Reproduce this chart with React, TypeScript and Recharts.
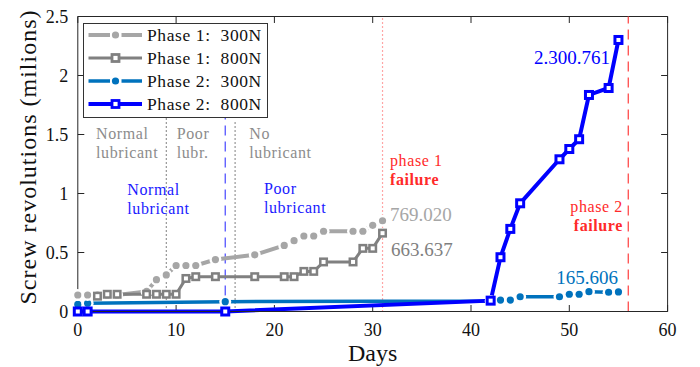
import React from 'react';
import { LineChart, Line, XAxis, YAxis, ReferenceLine, ReferenceDot, Legend } from 'recharts';

// days and revolutions (millions)
const p1Days300 = [0, 1, 2, 3, 4, 7, 8, 9, 10, 11, 12, 14, 18, 21, 22, 23, 24, 25, 28, 29, 30, 31];
const p1Revs300 = [0.14, 0.14, 0.14, 0.14, 0.14, 0.17, 0.27, 0.31, 0.39, 0.39, 0.39, 0.44, 0.48, 0.56, 0.6, 0.64, 0.64, 0.68, 0.68, 0.68, 0.73, 0.769];

const p1Days800 = [2, 3, 4, 7, 8, 9, 10, 11, 12, 14, 18, 21, 22, 23, 24, 25, 28, 29, 30, 31];
const p1Revs800 = [0.13, 0.146, 0.146, 0.146, 0.146, 0.146, 0.146, 0.28, 0.295, 0.295, 0.295, 0.295, 0.295, 0.34, 0.34, 0.42, 0.42, 0.535, 0.535, 0.664];

const p2Days = [0, 1, 15, 42, 43, 44, 45, 49, 50, 51, 52, 54, 55];
const p2Revs300 = [0.06, 0.07, 0.083, 0.09, 0.097, 0.097, 0.125, 0.125, 0.146, 0.146, 0.168, 0.163, 0.166];
const p2Revs800 = [0, 0, 0, 0.092, 0.46, 0.7, 0.917, 1.29, 1.377, 1.46, 1.835, 1.894, 2.301];

const xTicks = [0, 10, 20, 30, 40, 50, 60];
const yTicks = [0, 0.5, 1, 1.5, 2, 2.5];

const toRows = (days: number[], revs: number[]) => days.map((d, i) => ({ d, v: revs[i] }));

const FONT = '"Liberation Serif", "Times New Roman", serif';
const AXIS = '#262626';

const series = [
  { key: 'p1-300', name: 'Phase 1:  300N', color: '#A6A6A6', width: 4, marker: 'dot', data: toRows(p1Days300, p1Revs300) },
  { key: 'p1-800', name: 'Phase 1:  800N', color: '#808080', width: 3, marker: 'square', data: toRows(p1Days800, p1Revs800) },
  { key: 'p2-300', name: 'Phase 2:  300N', color: '#0072BD', width: 3.5, marker: 'dot', data: toRows(p2Days, p2Revs300) },
  { key: 'p2-800', name: 'Phase 2:  800N', color: '#0000FF', width: 4, marker: 'square', data: toRows(p2Days, p2Revs800) },
];
// drawing order (blue dotted first so the grey halos sit above it)
const drawOrder = ['p2-300', 'p1-300', 'p1-800', 'p2-800'];

// text annotations, placed in data units
const notes = [
  { x: 1.85, y: 1.459, text: 'Normal', color: '#8c8c8c' },
  { x: 1.85, y: 1.298, text: 'lubricant', color: '#8c8c8c' },
  { x: 10.06, y: 1.459, text: 'Poor', color: '#8c8c8c' },
  { x: 10.06, y: 1.298, text: 'lubr.', color: '#8c8c8c' },
  { x: 17.45, y: 1.459, text: 'No', color: '#8c8c8c' },
  { x: 17.45, y: 1.298, text: 'lubricant', color: '#8c8c8c' },
  { x: 5.04, y: 0.987, text: 'Normal', color: '#1a1aff' },
  { x: 5.04, y: 0.826, text: 'lubricant', color: '#1a1aff' },
  { x: 18.94, y: 1.0, text: 'Poor', color: '#1a1aff' },
  { x: 18.94, y: 0.832, text: 'lubricant', color: '#1a1aff' },
  { x: 31.76, y: 1.236, text: 'phase 1', color: '#ff2a2a' },
  { x: 31.76, y: 1.072, text: 'failure', color: '#ff2a2a', bold: true },
  { x: 55.46, y: 0.846, text: 'phase 2', color: '#ff2a2a', anchor: 'end' },
  { x: 55.46, y: 0.685, text: 'failure', color: '#ff2a2a', bold: true, anchor: 'end' },
  { x: 31.76, y: 0.767, text: '769.020', color: '#A6A6A6', num: true },
  { x: 31.86, y: 0.47, text: '663.637', color: '#808080', num: true },
  { x: 54.14, y: 2.095, text: '2.300.761', color: '#0000FF', num: true, anchor: 'end' },
  { x: 54.95, y: 0.233, text: '165.606', color: '#0072BD', num: true, anchor: 'end' },
];

const haloDot = (color: string) => (p: any) => {
  if (p.cx == null || p.cy == null) return <g key={p.index} />;
  return (
    <g key={p.index}>
      <circle cx={p.cx} cy={p.cy} r={6} fill="#fff" />
      <circle cx={p.cx} cy={p.cy} r={3.6} fill={color} />
    </g>
  );
};

const squareDot = (color: string, size: number, sw: number) => (p: any) => {
  if (p.cx == null || p.cy == null) return <g key={p.index} />;
  return (
    <rect key={p.index} x={p.cx - size / 2} y={p.cy - size / 2} width={size} height={size}
      fill="#fff" stroke={color} strokeWidth={sw} />
  );
};

const renderLegend = () => (
  <svg width={185} height={95} style={{ display: 'block' }}>
    <rect x={0.5} y={0.5} width={184} height={94} fill="#fff" stroke="#333" strokeWidth={1} />
    {series.map((s, i) => {
      const cy = 12 + i * 23;
      return (
        <g key={s.key}>
          {s.marker === 'dot' ? (
            <>
              <line x1={5.5} x2={27} y1={cy} y2={cy} stroke={s.color} strokeWidth={s.width} />
              <line x1={38.5} x2={59} y1={cy} y2={cy} stroke={s.color} strokeWidth={s.width} />
              <circle cx={32.5} cy={cy} r={3.6} fill={s.color} />
            </>
          ) : (
            <>
              <line x1={5.5} x2={59} y1={cy} y2={cy} stroke={s.color} strokeWidth={s.width} />
              <rect x={32.5 - 3.5} y={cy - 3.5} width={7} height={7} fill="#fff" stroke={s.color} strokeWidth={2.8} />
            </>
          )}
          <text x={64} y={cy + 5.5} fontFamily={FONT} fontSize={17.5} fill="#111" letterSpacing={0.6}
            style={{ whiteSpace: 'pre' }}>{s.name}</text>
        </g>
      );
    })}
  </svg>
);

const XLabel = (props: any) => {
  const vb = props.viewBox || { x: 77.8, y: 311.5, width: 590 };
  return (
    <text x={vb.x + vb.width / 2} y={vb.y + 49} textAnchor="middle" fontFamily={FONT} fontSize={24} fill="#111">
      Days
    </text>
  );
};

const YLabel = (props: any) => {
  const vb = props.viewBox || { x: 37.8, y: 16.5, height: 295 };
  const x = vb.x - 1.8;
  const y = vb.y + vb.height / 2 - 7;
  return (
    <text x={x} y={y} transform={`rotate(-90, ${x}, ${y})`} textAnchor="middle" fontFamily={FONT}
      fontSize={24} letterSpacing={1} fill="#111">
      Screw revolutions (milions)
    </text>
  );
};

export default function App() {
  return (
    <div style={{ position: 'absolute', left: 0, top: 0, width: 700, height: 367, background: '#fff' }}>
      <LineChart width={700} height={367} margin={{ top: 16.5, right: 32.4, bottom: 25.5, left: 37.8 }}>
        <XAxis dataKey="d" type="number" domain={[0, 60]} ticks={xTicks}
          tickLine={false} tickSize={0} tickMargin={12} height={30}
          axisLine={{ stroke: AXIS, strokeWidth: 1 }}
          tick={{ fontFamily: FONT, fontSize: 18, fill: '#111' }}
          label={<XLabel />} />
        <YAxis type="number" domain={[0, 2.5]} ticks={yTicks}
          tickLine={false} tickSize={0} tickMargin={9.5} width={40}
          axisLine={{ stroke: AXIS, strokeWidth: 1 }}
          tick={{ fontFamily: FONT, fontSize: 18, fill: '#111' }}
          label={<YLabel />} />

        {/* box and inward ticks */}
        <ReferenceLine y={2.5} stroke={AXIS} strokeWidth={1} />
        <ReferenceLine x={60} stroke={AXIS} strokeWidth={1} />
        {xTicks.map((t) => (
          <ReferenceLine key={'xb' + t} segment={[{ x: t, y: 0 }, { x: t, y: 0.055 }]} stroke={AXIS} />
        ))}
        {xTicks.map((t) => (
          <ReferenceLine key={'xt' + t} segment={[{ x: t, y: 2.5 }, { x: t, y: 2.445 }]} stroke={AXIS} />
        ))}
        {yTicks.map((t) => (
          <ReferenceLine key={'yl' + t} segment={[{ x: 0, y: t }, { x: 0.66, y: t }]} stroke={AXIS} />
        ))}
        {yTicks.map((t) => (
          <ReferenceLine key={'yr' + t} segment={[{ x: 60, y: t }, { x: 59.34, y: t }]} stroke={AXIS} />
        ))}

        {/* lubrication / failure markers */}
        <ReferenceLine segment={[{ x: 9, y: 0 }, { x: 9, y: 1.64 }]} stroke="#000" strokeDasharray="1 3" />
        <ReferenceLine segment={[{ x: 16, y: 0 }, { x: 16, y: 1.62 }]} stroke="#000" strokeDasharray="1 3" />
        <ReferenceLine segment={[{ x: 15, y: 0 }, { x: 15, y: 1.65 }]} stroke="#5555ff" strokeWidth={1.3} strokeDasharray="10 6" />
        <ReferenceLine x={31} stroke="#ff4d4d" strokeWidth={1.2} strokeDasharray="1 3" />
        <ReferenceLine x={56} stroke="#ff4d4d" strokeWidth={1.3} strokeDasharray="10 6" />

        {drawOrder.map((k) => {
          const s = series.find((q) => q.key === k)!;
          const dot = s.marker === 'dot'
            ? haloDot(s.color)
            : squareDot(s.color, k === 'p2-800' ? 7 : 6.5, k === 'p2-800' ? 3 : 2.5);
          return (
            <Line key={s.key} data={s.data} dataKey="v" name={s.name} type="linear"
              stroke={s.color} strokeWidth={s.width} dot={dot} activeDot={false}
              isAnimationActive={false} legendType="none" />
          );
        })}

        {notes.map((n, i) => (
          <ReferenceDot key={'n' + i} x={n.x} y={n.y} r={0} ifOverflow="visible"
            shape={(p: any) => (
              <text x={p.cx} y={p.cy} textAnchor={n.anchor === 'end' ? 'end' : 'start'}
                fontFamily={FONT} fontSize={n.num ? 19 : 16} fontWeight={n.bold ? 'bold' : 'normal'}
                letterSpacing={n.num ? 0 : 0.6} fill={n.color}>
                {n.text}
              </text>
            )} />
        ))}

        <Legend layout="vertical" align="center" verticalAlign="middle" content={renderLegend}
          wrapperStyle={{ position: 'absolute', left: 82.7, top: 23.3, width: 185, height: 95 }} />
      </LineChart>
    </div>
  );
}
